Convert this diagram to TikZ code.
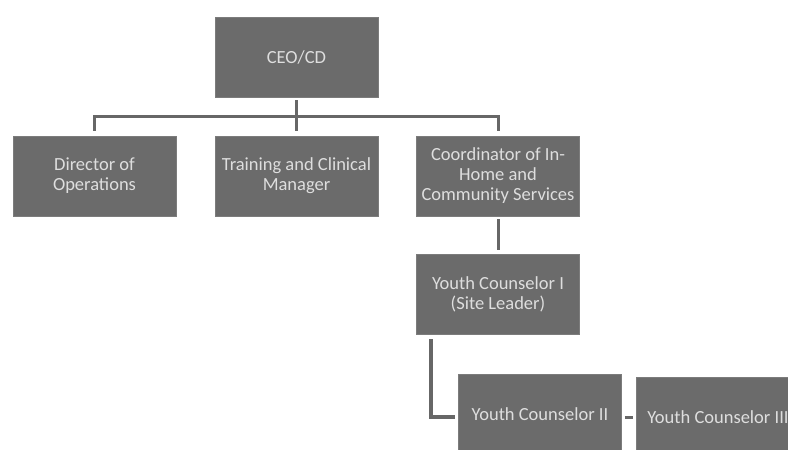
\documentclass[tikz,border=0pt]{standalone}
\usepackage{fontspec}
\setmainfont{Carlito}
\definecolor{boxfill}{HTML}{6B6B6B}
\definecolor{boxedge}{HTML}{7C7C7C}
\definecolor{boxtext}{HTML}{DEDEDE}
\definecolor{linecol}{HTML}{676767}
\begin{document}
\begin{tikzpicture}[x=1pt,y=-1pt,
  orgbox/.style={rectangle,fill=boxfill,draw=boxedge,line width=0.8pt,
    minimum width=163pt,minimum height=80pt,inner sep=0pt,align=center,
    text=boxtext,font=\fontsize{18.5}{20}\selectfont},
  conn/.style={draw=linecol,line width=3pt}]
\useasboundingbox (0,0) rectangle (788,450);
\clip (0,0) rectangle (788,450);
\fill[white] (0,0) rectangle (788,450);
\node[orgbox] (ceo) at (296.5,57) {CEO/CD};
\node[orgbox] (dir) at (94.5,176) {Director of\\Operations};
\node[orgbox] (train) at (296.5,176) {Training and Clinical\\Manager};
\node[orgbox] (coord) at (498,176) {Coordinator of In-\\Home and\\Community Services};
\node[orgbox] (yc1) at (498,294) {Youth Counselor I\\(Site Leader)};
\node[orgbox] (yc2) at (540,414) {Youth Counselor II};
\node[orgbox] (yc3) at (718,417) {Youth Counselor III};
\draw[conn] ([yshift=5pt]dir.north) |- ([yshift=19pt]coord.north) -- ([yshift=5pt]coord.north);
\draw[conn] ([yshift=-3pt]ceo.south) -- ([yshift=5pt]train.north);
\draw[conn] ([yshift=-3pt]coord.south) -- ([yshift=4pt]yc1.north);
\draw[conn,line width=3.5pt] ([xshift=15pt,yshift=-5pt]yc1.south west) |- ([xshift=-3pt,yshift=-3pt]yc2.west);
\draw[conn] ([xshift=3pt]yc2.east |- yc3.west) -- ([xshift=-3pt]yc3.west);
\end{tikzpicture}
\end{document}
